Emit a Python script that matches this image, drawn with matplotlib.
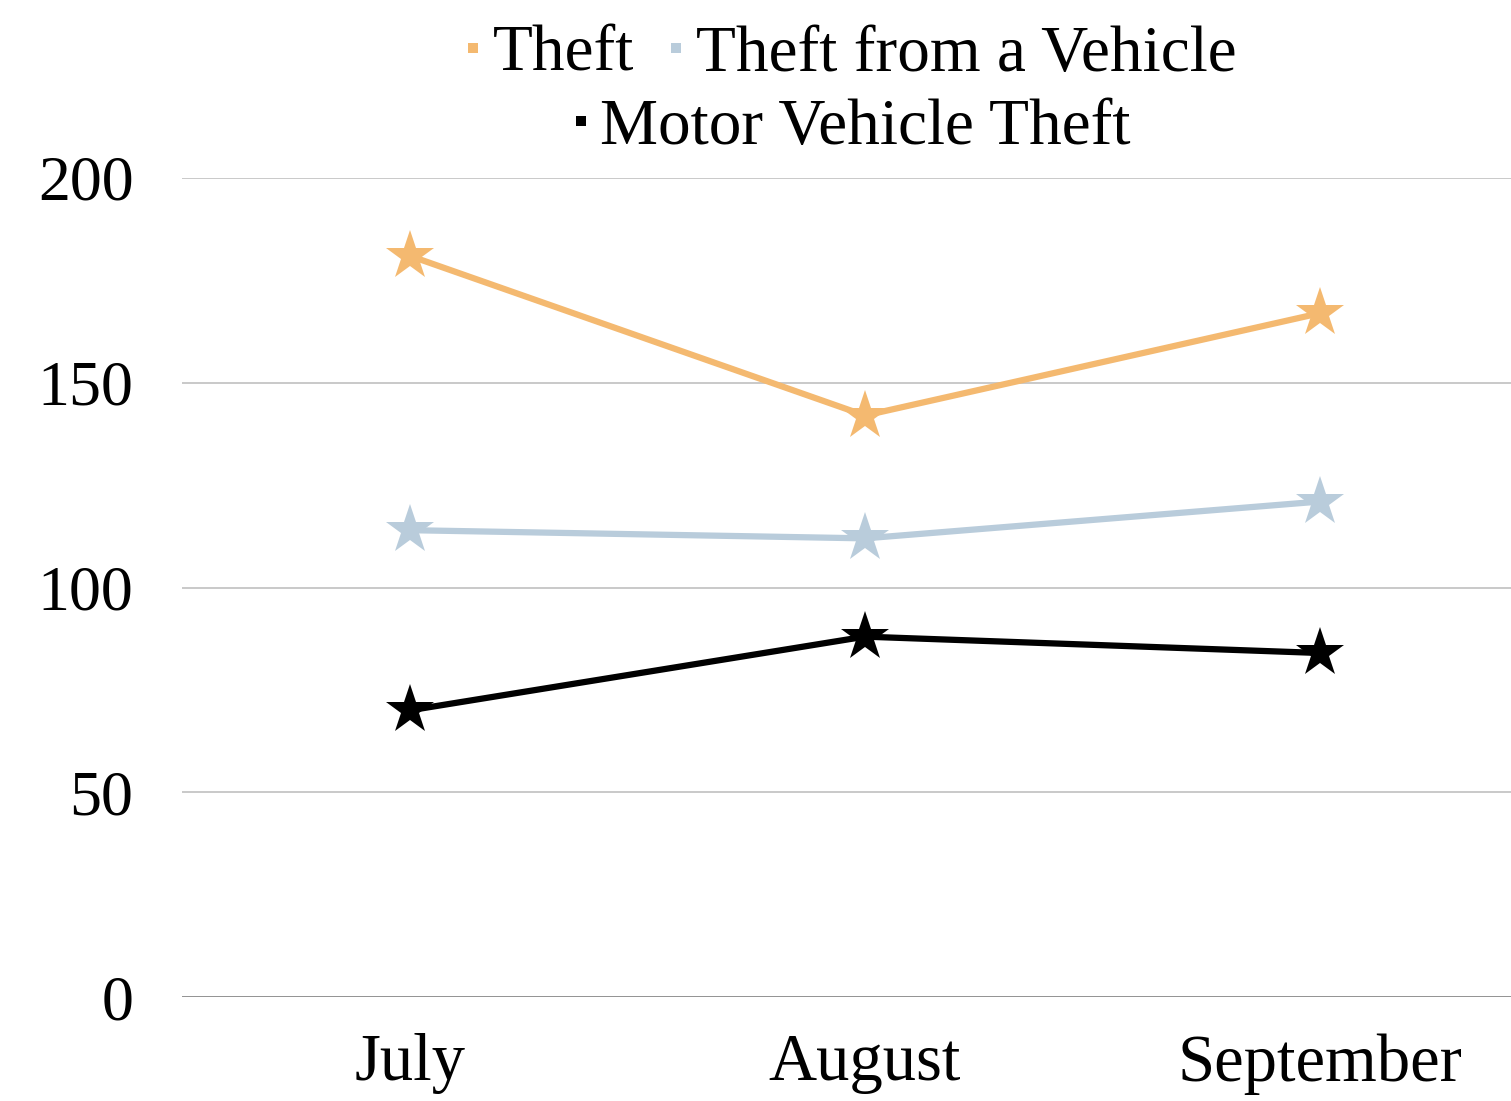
import matplotlib.pyplot as plt
from matplotlib.lines import Line2D

###  Data

months = ['July', 'August', 'September']
theft = [181, 142, 167]
theft_vehicle = [114, 112, 121]
motor_theft = [70, 88, 84]
y_ticks = [0, 50, 100, 150, 200]

plt.rcParams['font.family'] = ['Liberation Serif', 'DejaVu Serif']

###  Figure

fig = plt.figure(figsize=(15.11, 11.01), dpi=100)
ax = fig.add_axes([182 / 1511, 1 - 997 / 1101, 1366 / 1511, 819 / 1101])

x = list(range(len(months)))
series = [
    (theft, '#F4B970', 'Theft'),
    (theft_vehicle, '#B9CCDB', 'Theft from a Vehicle'),
    (motor_theft, '#000000', 'Motor Vehicle Theft'),
]
for vals, col, name in series:
    ax.plot(x, vals, color=col, linewidth=4.5, marker='*', markersize=37,
            markeredgewidth=0, label=name, zorder=3, clip_on=False)

ax.set_xlim(-0.5, 2.5)
ax.set_ylim(0, 200)
ax.set_xticks(x)
ax.set_xticklabels(months)
ax.set_yticks(y_ticks)
ax.set_yticklabels([str(v) for v in y_ticks])

for v in y_ticks:
    ax.axhline(v, color='#808080' if v == 0 else '#C0C0C0', linewidth=1.2, zorder=1)

for s in ax.spines.values():
    s.set_visible(False)
ax.tick_params(axis='x', length=0, labelsize=48, pad=26)
ax.tick_params(axis='y', length=0, labelsize=46, pad=35)
for lab in ax.get_yticklabels():
    lab.set_va('center_baseline')

# legend: two rows, centred
def handle(col):
    return Line2D([], [], linestyle='none', marker='s', markersize=7,
                  markerfacecolor=col, markeredgewidth=0)

leg1 = fig.legend([handle(series[0][1]), handle(series[1][1])],
                  [series[0][2], series[1][2]],
                  loc='center', bbox_to_anchor=(850 / 1511, 1 - 55 / 1101),
                  ncol=2, frameon=False, fontsize=47, handlelength=0.3,
                  handletextpad=0.15, columnspacing=0.5, borderpad=0)
leg2 = fig.legend([handle(series[2][1])], [series[2][2]],
                  loc='center', bbox_to_anchor=(851 / 1511, 1 - 128 / 1101),
                  frameon=False, fontsize=47, handlelength=0.3,
                  handletextpad=0.15, borderpad=0)

plt.savefig('out.png', dpi=100)
